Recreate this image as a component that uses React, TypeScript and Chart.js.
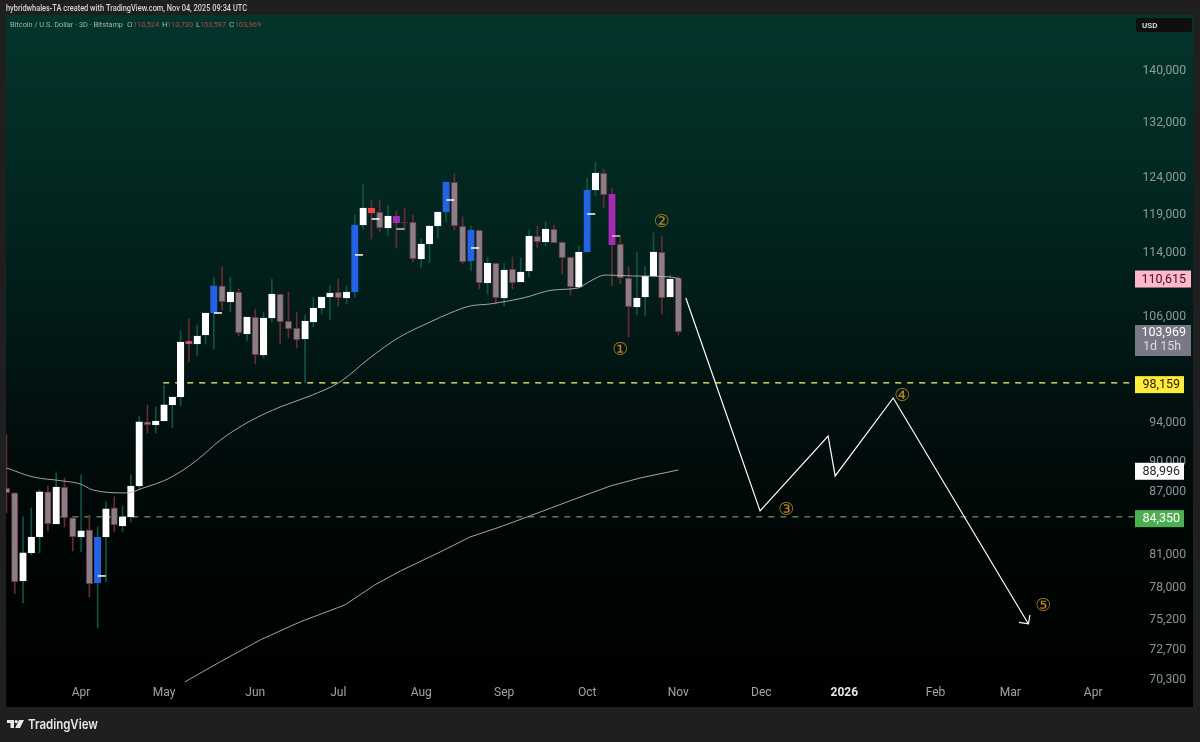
import React, { useEffect, useRef } from "react";
import { Chart, registerables } from "chart.js";

Chart.register(...registerables);

const opens = [87150,86665,78452,80976,82453,86763,83680,87250,84245,82453,83110,78275,82453,85206,83490,84341,87350,93910,93590,94016,95734,96600,102921,102573,103622,106232,109530,107562,108786,103739,105752,101304,105633,108540,105275,104445,103154,105156,106836,108173,108786,108050,108786,117352,119629,119089,116954,118551,117751,117751,112923,114857,117219,119089,123200,117219,112669,116689,109900,112414,108050,111654,110024,111401,115899,115116,116822,115116,113179,109406,113821,122090,124462,121539,114857,110520,106957,108173,110772,113821,108173,110524];
const highs = [92540,86665,84341,85206,86957,87350,88645,88145,84245,88447,84533,83392,85785,86280,85400,88447,94546,95734,95518,97924,96600,104091,105513,104800,106232,110647,111906,110647,109155,105752,106714,106352,110400,108540,108786,106352,105992,108173,108173,109652,110400,109530,118686,122921,120717,120717,120036,119224,119629,118686,115507,117352,119089,123200,124321,118417,117219,116689,113179,112414,112414,113179,113051,116689,117219,117751,117352,115116,113179,114596,123759,126020,125025,122367,115899,111906,113821,111906,116294,115899,110898,110730];
const lows = [84725,77307,76525,80795,80976,83016,83680,83392,81160,81068,77045,74389,78363,82922,82922,83866,86957,92749,92749,94016,93275,95626,100505,101190,102573,101994,106593,106352,103505,102921,100278,100960,105156,102573,103271,102110,98146,104564,106112,105394,107078,107320,108173,116822,115507,116426,115899,114337,116689,112541,111780,112414,115637,117751,116689,112287,111401,109155,108540,107320,107078,109155,110024,110647,114337,114596,114986,111025,108418,109280,113821,121263,119629,109530,109777,103388,105992,105872,110647,106112,108173,103597];
const closes = [86665,78363,80976,82453,86763,83680,87250,84245,82453,83016,78187,82453,85110,83585,84341,87350,93910,93590,94016,95734,96600,102805,102573,103505,106232,109530,107562,108786,103856,105752,101304,105633,108540,105156,104327,103037,105275,106836,108173,108663,108050,108786,117352,119629,118954,116954,118551,117618,117618,112923,114857,117219,119089,123200,117219,112541,116689,109900,112414,108050,111527,109900,111275,115899,115116,116822,114986,113051,109406,113821,122090,124462,121402,114727,110520,106957,108050,110772,113821,108050,110400,103969];
const kinds = ["down","down","up","up","up","down","up","down","down","up","down","blue","up","down","up","up","up","down","up","up","up","up","pink","up","up","blue","down","up","down","up","down","up","up","down","down","down","up","up","up","up","down","up","blue","up","red","down","up","purple","doji","down","up","up","up","blue","down","down","blue","down","up","down","up","down","up","up","down","up","down","down","down","up","blue","up","down","purple","down","down","up","up","up","down","up","down"];

const ma1Idx = [0,3.2,6.8,8.9,10.4,14.5,16.5,19.7,23,25.8,29.4,33,36.6,40.2,43.8,47.4,51.1,53.5,55.9,58.3,62.3,65.9,68.9,70.4,72.2,75.5,80,81.2];
const ma1Val = [89150,88247,87847,87550,86957,86665,87153,88145,89958,92016,94015,95515,96715,98257,100960,103386,105156,106232,107076,107321,108050,109032,109279,110149,110896,110773,110650,110398];
const ma2Idx = [21.5,25.75,30.6,35.4,40.8,44.4,47.5,52.3,55.9,59.5,63.1,67.9,72.8,76.4,81];
const ma2Val = [69981,71582,73386,74898,76350,78098,79343,81068,82453,83391,84437,85882,87350,88145,88946];

const pathIdx = [81.9,90.85,99.05,99.9,106.9,123.2];
const pathVal = [108050,84916,92430,88345,96493,74726];

const markIdx = [11,25,42,44,47,53,56,70,73];
const markVal = [78895,106232,113440,118150,116822,120717,114337,118820,115899];
const markPale = [false,false,false,false,true,false,false,false,true];

const waveIdx = [74,79,94,108,125];
const waveVal = [101994,117884,85110,96820,76350];
const waveText = ["①","②","③","④","⑤"];

const yTicks = [140000,132000,124000,119000,114000,106000,94000,90000,87000,81000,78000,75200,72700,70300];
const monthIdx = [9,19,30,40,50,60,70,81,91,101,112,121,131];
const monthNames = ["Apr","May","Jun","Jul","Aug","Sep","Oct","Nov","Dec","2026","Feb","Mar","Apr"];

const level98 = 98159;
const level84 = 84350;
const levelIdxY = [18.9,135.95];
const levelIdxG = [6.5,135.95];

const bodyFill: Record<string, string> = {
  up: "#ffffff", down: "#8a7f88", blue: "#2563e6", purple: "#a52bb3",
  red: "#f0474c", pink: "#c9607a", doji: "#6a2a32",
};
const bodyEdge: Record<string, string> = {
  up: "#ffffff", down: "#5e2b33", blue: "#2563e6", purple: "#a52bb3",
  red: "#f0474c", pink: "#b04a62", doji: "#6a2a32",
};
const wickColor: Record<string, string> = {
  up: "#125245", down: "#6a2a32", blue: "#125245", purple: "#6a2a32",
  red: "#6a2a32", pink: "#6a2a32", doji: "#6a2a32",
};

const FONT = "Roboto, 'Noto Sans', sans-serif";

const chrome = {
  id: "chrome",
  beforeDraw(chart: any) {
    const c = chart.ctx;
    c.save();
    c.fillStyle = "#1f1f1f";
    c.fillRect(0, 0, 1200, 742);
    const g = c.createLinearGradient(0, 15, 0, 707);
    g.addColorStop(0, "#03352b");
    g.addColorStop(0.2, "#022a23");
    g.addColorStop(0.4, "#021d19");
    g.addColorStop(0.6, "#010e0d");
    g.addColorStop(0.76, "#000605");
    g.addColorStop(1, "#000000");
    c.fillStyle = g;
    c.fillRect(6, 15, 1187, 692);

    c.textBaseline = "middle";
    c.textAlign = "left";
    c.font = `500 8.5px ${FONT}`;
    c.fillStyle = "#d6d6d6";
    c.fillText("hybridwhales-TA created with TradingView.com, Nov 04, 2025 09:34 UTC", 6, 9, 241);

    c.font = `8px ${FONT}`;
    c.fillStyle = "#9fb3ad";
    c.fillText("Bitcoin / U.S. Dollar · 3D · Bitstamp", 10, 24.5, 113);
    const ohlc = [["O", 127, "110,524", 133], ["H", 162, "110,730", 167], ["L", 196, "103,597", 200], ["C", 229, "103,969", 235]];
    for (const [a, ax, b, bx] of ohlc as any) {
      c.fillStyle = "#9fb3ad";
      c.fillText(a, ax, 24.5);
      c.fillStyle = "#b9434a";
      c.fillText(b, bx, 24.5, 26);
    }

    c.fillStyle = "#0f0f0f";
    c.beginPath();
    c.roundRect(1136, 18, 56, 14, 2);
    c.fill();
    c.font = `600 8px ${FONT}`;
    c.fillStyle = "#e0e0e0";
    c.fillText("USD", 1142, 25.5);

    c.fillStyle = "#e8e8e8";
    c.fillRect(7, 720, 7, 3);
    c.fillRect(10.5, 720, 3.5, 8);
    c.beginPath();
    c.arc(16.2, 721.6, 1.6, 0, Math.PI * 2);
    c.fill();
    c.beginPath();
    c.moveTo(19, 720);
    c.lineTo(24, 720);
    c.lineTo(20, 728);
    c.lineTo(15.2, 728);
    c.closePath();
    c.fill();
    c.font = `600 13.5px Inter, ${FONT}`;
    c.fillStyle = "#e8e8e8";
    c.fillText("TradingView", 28, 725, 70);
    c.restore();
  },
};

const overlay = {
  id: "overlay",
  afterDatasetsDraw(chart: any) {
    const c = chart.ctx;
    const x = chart.scales.x;
    const y = chart.scales.y;
    c.save();

    const n = pathIdx.length - 1;
    const tx = x.getPixelForValue(pathIdx[n]);
    const ty = y.getPixelForValue(pathVal[n]);
    c.strokeStyle = "#ffffff";
    c.lineWidth = 1.2;
    c.beginPath();
    c.moveTo(tx - 9.5, ty - 1.5);
    c.lineTo(tx, ty);
    c.lineTo(tx + 1.5, ty - 9);
    c.stroke();

    c.font = "18px 'DejaVu Sans'";
    c.textAlign = "center";
    c.textBaseline = "middle";
    c.fillStyle = "#b98420";
    waveText.forEach((t, i) => {
      c.fillText(t, x.getPixelForValue(waveIdx[i]), y.getPixelForValue(waveVal[i]) + 1);
    });

    const tag = (v: number, text: string, bg: string, fg: string, right: number) => {
      const py = y.getPixelForValue(v) + 1.8;
      c.fillStyle = bg;
      c.fillRect(1135, py - 8.5, right - 1135, 17);
      c.fillStyle = fg;
      c.font = `12.5px ${FONT}`;
      c.textAlign = "right";
      c.fillText(text, right - (right > 1186 ? 5 : 4), py + 0.5);
    };
    tag(110615, "110,615", "#ffb7c9", "#3d1420", 1191);
    tag(level98, "98,159", "#ffeb3b", "#2a2500", 1184);
    tag(88996, "88,996", "#ffffff", "#2a2a2a", 1184);
    tag(level84, "84,350", "#4caf50", "#ffffff", 1184);

    const py = y.getPixelForValue(103969);
    c.fillStyle = "#787886";
    c.fillRect(1135, py - 7, 56, 31);
    c.fillStyle = "#ffffff";
    c.font = `12.5px ${FONT}`;
    c.textAlign = "right";
    c.fillText("103,969", 1186, py + 1);
    c.fillStyle = "#d9d9de";
    c.textAlign = "left";
    c.fillText("1d 15h", 1143, py + 15);
    c.restore();
  },
};

export default function App() {
  const ref = useRef<HTMLCanvasElement | null>(null);

  useEffect(() => {
    const pts = (xs: number[], ys: number[]) => xs.map((v, i) => ({ x: v, y: ys[i] }));
    const chart = new Chart(ref.current as HTMLCanvasElement, {
      type: "bar",
      data: {
        datasets: [
          {
            type: "line",
            data: pts(levelIdxY, [level98, level98]),
            borderColor: "#e6e26a",
            borderWidth: 1.4,
            borderDash: [6, 6],
            pointRadius: 0,
            clip: false,
            order: 10,
          },
          {
            type: "line",
            data: pts(levelIdxG, [level84, level84]),
            borderColor: "#6f9c70",
            borderWidth: 1.2,
            borderDash: [6, 6],
            pointRadius: 0,
            clip: false,
            order: 10,
          },
          {
            type: "bar",
            data: highs.map((h, i) => ({ x: i, y: [lows[i], h] })),
            backgroundColor: kinds.map((k) => wickColor[k]),
            barThickness: 1,
            grouped: false,
            order: 9,
          },
          {
            type: "bar",
            data: opens.map((o, i) => ({ x: i, y: [o, closes[i]] })),
            backgroundColor: kinds.map((k) => bodyFill[k]),
            borderColor: kinds.map((k) => bodyEdge[k]),
            borderWidth: 1,
            borderSkipped: false,
            barThickness: 6.6,
            grouped: false,
            order: 8,
          },
          {
            type: "scatter",
            data: pts(markIdx.map((v) => v + 0.5), markVal),
            pointStyle: "line",
            pointRadius: 4,
            pointBorderWidth: 1.5,
            pointBorderColor: markPale.map((p) => (p ? "#c9c9c9" : "#ffffff")),
            order: 7,
          },
          {
            type: "line",
            data: pts(ma1Idx, ma1Val),
            borderColor: "#b9b2b0",
            borderWidth: 0.9,
            pointRadius: 0,
            cubicInterpolationMode: "monotone",
            order: 6,
          },
          {
            type: "line",
            data: pts(ma2Idx, ma2Val),
            borderColor: "#b5b5b3",
            borderWidth: 0.9,
            pointRadius: 0,
            order: 6,
          },
          {
            type: "line",
            data: pts(pathIdx, pathVal),
            borderColor: "#ffffff",
            borderWidth: 1.2,
            pointRadius: 0,
            order: 5,
          },
        ],
      } as any,
      options: {
        responsive: false,
        animation: false,
        layout: { padding: { top: 15, bottom: 35, left: 6, right: 14 } },
        plugins: { legend: { display: false }, tooltip: { enabled: false }, title: { display: false } },
        scales: {
          x: {
            type: "linear",
            offset: false,
            min: -0.05,
            max: 135.2,
            grid: { display: false, drawTicks: false },
            border: { display: false },
            afterFit(s: any) { s.height = 24; },
            afterBuildTicks(s: any) { s.ticks = monthIdx.map((v) => ({ value: v })); },
            ticks: {
              autoSkip: false,
              maxRotation: 0,
              padding: 3,
              callback: (v: any) => monthNames[monthIdx.indexOf(Number(v))],
              color: (ctx: any) => (ctx.tick && ctx.tick.value === 101 ? "#e6e6e6" : "#a3a3a3"),
              font: (ctx: any) => ({
                family: FONT,
                size: 12,
                weight: ctx.tick && ctx.tick.value === 101 ? "bold" : "normal",
              }),
            },
          },
          y: {
            type: "logarithmic",
            position: "right",
            min: 69896,
            max: 148820,
            grid: { display: false, drawTicks: false },
            border: { display: false },
            afterFit(s: any) { s.width = 58; },
            afterBuildTicks(s: any) { s.ticks = yTicks.map((v) => ({ value: v })); },
            ticks: {
              autoSkip: false,
              crossAlign: "far",
              labelOffset: 2,
              padding: 0,
              color: "rgba(190,200,200,0.72)",
              font: { family: FONT, size: 12.2 },
              callback: (v: any) => Number(v).toLocaleString("en-US"),
            },
          },
        },
      } as any,
      plugins: [chrome, overlay],
    });
    return () => chart.destroy();
  }, []);

  return (
    <div style={{ position: "absolute", left: 0, top: 0, width: 1200, height: 742 }}>
      <canvas ref={ref} width={1200} height={742} style={{ display: "block" }} />
    </div>
  );
}
